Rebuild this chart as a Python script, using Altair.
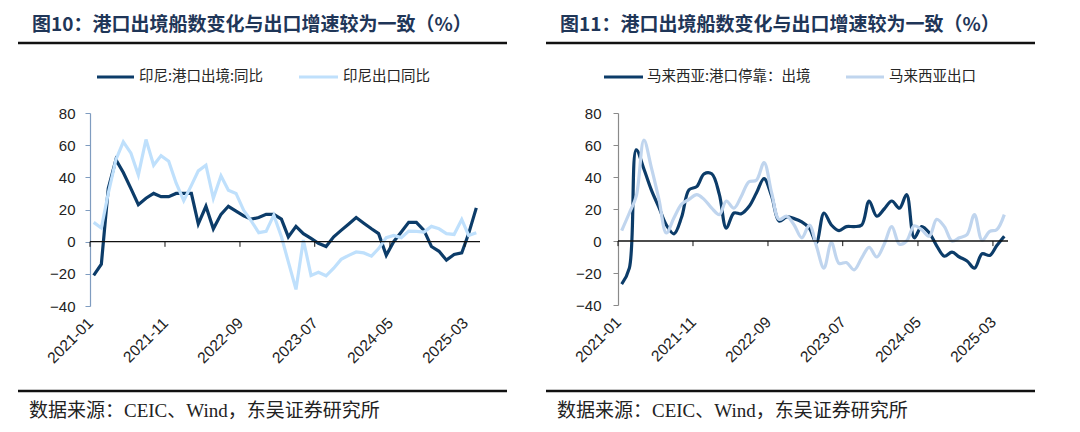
import altair as alt
import pandas as pd

# ---------------- data ----------------
months = [f"{y}-{m:02d}" for y in range(2021, 2026) for m in range(1, 13)][:52]
tick_labels = ["2021-01", "2021-11", "2022-09", "2023-07", "2024-05", "2025-03"]
y_ticks = [-40, -20, 0, 20, 40, 60, 80]

idn_names = ["印尼:港口出境:同比", "印尼出口同比"]
idn_port = [-21, -14, 33, 51, 43, 33, 23, 27, 30, 28, 28, 30, 30, 30, 11, 22, 8, 17,
            22, 19, 16, 14, 15, 17, 17, 14, 3, 9.5, 5, 2, -1, -3, 3, 7, 11, 15,
            11.5, 8, 5, -8.5, 0, 6, 12, 12, 7, -3, -6, -11.5, -8, -7, 5, 21]
idn_export = [12, 8.5, 30, 51, 62, 55, 41.5, 63.5, 47.5, 53.5, 50, 36.5, 25.5, 35, 44, 47.5, 27, 41,
              32, 30, 19.5, 13, 5.6, 6.4, 16.5, 3, -12.6, -29.7, 1, -21, -19, -21.2, -16.5, -11, -8.5, -6.4,
              -7, -9, -4.3, 2.5, 3.9, 2.5, 6.6, 6.4, 6, 9.5, 8, 5, 4.5, 13.8, 3.9, 5.6]

mys_names = ["马来西亚:港口停靠：出境", "马来西亚出口"]
mys_port = [-27, -17, 57, 45, 32, 21, 10, 4.5, 15, 32, 34, 42, 42, 29, 8, 17.5, 17, 21.5,
            30, 39, 28, 12.5, 15, 14, 12, 8, -1, 17.5, 10, 6.5, 9, 9, 10, 25, 15.5, 20,
            25, 20.5, 29, 2, 9, 5, -3, -9.5, -7, -10, -12.5, -17, -8, -9, -3, 3]
mys_export = [6.5, 17.5, 28, 63, 46, 26, 5, 14.5, 23, 26, 29, 26, 20.5, 16.5, 25, 20.5, 28, 37,
              38, 49, 30, 13.5, 15.5, 10, 2, 10, -3, -17, -1, -14, -13.5, -18, -10.5, -4, -10, -2,
              9, -2, 0, 9.5, 7, 3, 13.5, 9, 0, 2, 4, 16.5, 0.5, 6, 7, 16.5]

titles = ["图10：港口出境船数变化与出口增速较为一致（%）", "图11：港口出境船数变化与出口增速较为一致（%）"]
source = "数据来源：CEIC、Wind，东吴证券研究所"

# ---------------- styling ----------------
W, H = 390, 193
DARK = "#0c3c69"
CJK = "Noto Sans CJK SC"
SERIF = '"Liberation Serif", "Noto Sans CJK SC"'
ARIAL = "Liberation Sans"
TITLE_COLOR = "#1f3658"


def dt(ym):
    y, m = ym.split("-")
    return alt.DateTime(year=int(y), month=int(m), date=1, utc=True)


one = pd.DataFrame({"k": [0]})


def panel(names, port, export, light, axis_color, interp, title, legend_x, height, label_pad):
    df = pd.DataFrame({"date": [m + "-16" for m in months], "port": port, "export": export})
    xscale = alt.Scale(type="utc", domain=[dt("2021-01"), dt("2025-05")])
    yscale = alt.Scale(domain=[-40, 80])
    xaxis = alt.Axis(values=[dt(t) for t in tick_labels], format="%Y-%m", labelAngle=-45,
                     labelAlign="right", labelBaseline="middle", labelPadding=14,
                     domain=False, ticks=False, grid=False, title=None,
                     labelFontSize=15.5, labelFont=ARIAL, labelColor="#222222")
    yaxis = alt.Axis(values=y_ticks, domainColor=axis_color, tickColor=axis_color, tickSize=5,
                     labelFontSize=15, labelFont=ARIAL, labelColor="#222222", labelPadding=label_pad,
                     grid=False, title=None, domainWidth=1.2)

    dark_line = alt.Chart(df).mark_line(color=DARK, strokeWidth=3.2, interpolate=interp).encode(
        x=alt.X("date:T", scale=xscale, axis=xaxis),
        y=alt.Y("port:Q", scale=yscale, axis=yaxis),
    )
    light_line = alt.Chart(df).mark_line(color=light, strokeWidth=3.2, interpolate=interp).encode(
        x=alt.X("date:T", scale=xscale, axis=xaxis),
        y=alt.Y("export:Q", scale=yscale, axis=yaxis),
    )
    zero = alt.Chart(one).mark_rule(color="#111111", strokeWidth=1.3).encode(
        x=alt.value(0), x2=alt.value(W), y=alt.Y(datum=0, scale=yscale, axis=yaxis))
    ticks_df = pd.DataFrame({"date": [t + "-01" for t in tick_labels]})
    ticks = alt.Chart(ticks_df).mark_rule(color="#111111", strokeWidth=1).encode(
        x=alt.X("date:T", scale=xscale, axis=xaxis),
        y=alt.Y(datum=0, scale=yscale, axis=yaxis), y2=alt.datum(-3.2))

    def txt(t, x, y, size, color, font, weight="normal"):
        return alt.Chart(one).mark_text(text=t, align="left", baseline="middle", fontSize=size,
                                        color=color, font=font, fontWeight=weight).encode(
            x=alt.value(x), y=alt.value(y))

    def hline(x1, x2, y, color, w):
        return alt.Chart(one).mark_rule(color=color, strokeWidth=w).encode(
            x=alt.value(x1), x2=alt.value(x2), y=alt.value(y))

    lx = legend_x
    deco = [
        hline(-81, -72, -104, "#ffffff", 1),
        txt(title, -58, -88, 19, TITLE_COLOR, CJK, "bold"),
        hline(-72, 417, -70, "#111111", 2.5),
        hline(lx[0], lx[1], -36, DARK, 3),
        txt(names[0], lx[2], -36, 14.5, "#262626", CJK),
        hline(lx[3], lx[4], -36, light, 3),
        txt(names[1], lx[5], -36, 14.5, "#262626", CJK),
        hline(-72, 417, 278, "#111111", 2.5),
        txt(source, -61, 298, 19, "#222222", SERIF),
    ]
    return alt.layer(dark_line, light_line, zero, ticks, *deco).properties(width=W, height=height)


left = panel(idn_names, idn_port, idn_export, "#bfe0fc", "#7f9cc0", "linear", titles[0],
             [7, 44, 49, 209, 248, 253], H, 10)
right = panel(mys_names, mys_port, mys_export, "#c0d5ee", "#8a8a8a", "catmull-rom", titles[1],
              [-14, 25, 29, 228, 266, 271], 192, 12)

chart = alt.hconcat(left, right, spacing=138, bounds="flush").properties(padding=0).configure_view(stroke=None)
chart.save("out.html", embed_options={"renderer": "svg", "actions": False})
